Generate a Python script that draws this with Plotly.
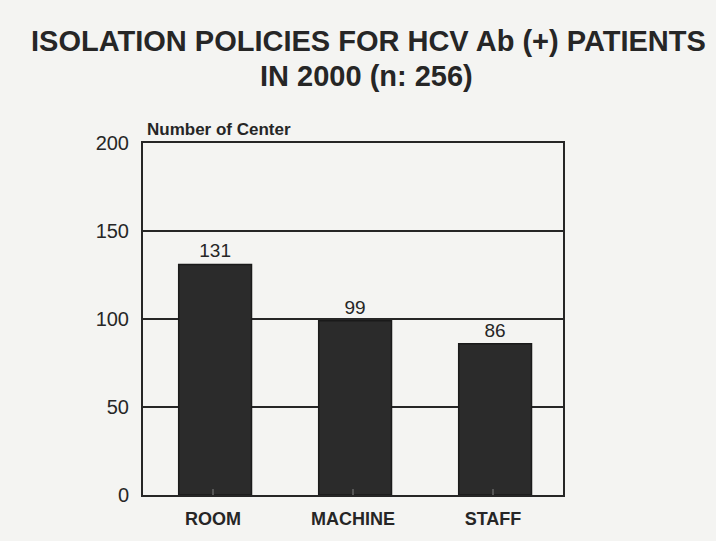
import plotly.graph_objects as go

categories = ["ROOM", "MACHINE", "STAFF"]
values = [131, 99, 86]
y_ticks = [0, 50, 100, 150, 200]

title_line1 = "ISOLATION POLICIES FOR HCV Ab (+) PATIENTS"
title_line2 = "IN 2000 (n: 256)"
y_title = "Number of Center"

bg = "#f4f4f2"
ink = "#262626"
FONT = "Liberation Sans, Arial, sans-serif"

W, H = 716, 541
M = dict(l=143, r=153, t=143, b=43)

fig = go.Figure(
    go.Bar(
        x=categories,
        y=values,
        width=0.52,
        offset=-0.245,
        marker=dict(color="#2b2b2b", line=dict(color="#1a1a1a", width=1.5)),
        text=[str(v) for v in values],
        textposition="outside",
        textfont=dict(family=FONT, size=19, color=ink),
        cliponaxis=False,
    )
)

plot_h = H - M["t"] - M["b"]
plot_w = W - M["l"] - M["r"]

def ypix(py):
    return (H - M["b"] - py) / plot_h

def xpix(px):
    return (px - M["l"]) / plot_w

fig.update_layout(
    width=W,
    height=H,
    paper_bgcolor=bg,
    plot_bgcolor=bg,
    margin=M,
    showlegend=False,
    annotations=[
        dict(
            text="<b>" + title_line1 + "</b>",
            x=xpix(368), y=ypix(40), xref="paper", yref="paper",
            xanchor="center", yanchor="middle",
            showarrow=False,
            font=dict(family=FONT, size=29, color=ink),
        ),
        dict(
            text="<b>" + title_line2 + "</b>",
            x=xpix(366), y=ypix(75), xref="paper", yref="paper",
            xanchor="center", yanchor="middle",
            showarrow=False,
            font=dict(family=FONT, size=29, color=ink),
        ),
        dict(
            text="<b>" + y_title + "</b>",
            x=xpix(145), y=ypix(129), xref="paper", yref="paper",
            xanchor="left", yanchor="middle",
            showarrow=False,
            font=dict(family=FONT, size=17, color=ink),
        ),
    ],
)

fig.update_xaxes(
    showline=True, linecolor=ink, linewidth=2, mirror=True,
    tickmode="array", tickvals=categories,
    ticktext=["<b>" + c + "</b>" for c in categories],
    ticks="inside", ticklen=6, tickcolor="#555", tickwidth=1.5,
    tickfont=dict(family=FONT, size=18, color=ink),
    ticklabelstandoff=6,
    showgrid=False,
)
fig.update_yaxes(
    range=[0, 200], tickvals=y_ticks,
    showline=True, linecolor=ink, linewidth=2, mirror=True,
    ticks="",
    tickfont=dict(family=FONT, size=20, color=ink),
    ticklabelstandoff=8,
    showgrid=True, gridcolor=ink, gridwidth=2,
    zeroline=False,
)

fig.write_html(
    "out.html",
    config={"displayModeBar": False},
    post_script="document.body.style.margin='0';document.body.style.background='" + bg + "';",
)
